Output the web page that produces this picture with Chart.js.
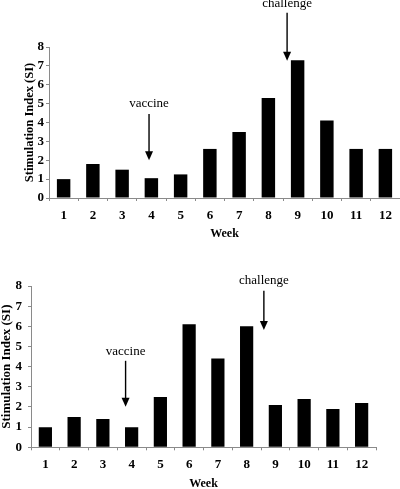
<!DOCTYPE html>
<html><head><meta charset="utf-8">
<script src="https://cdn.jsdelivr.net/npm/chart.js@4/dist/chart.umd.min.js"></script>
<style>
html,body{margin:0;padding:0;background:#fff;width:400px;height:489px;overflow:hidden;position:relative}
canvas{position:absolute;left:0;display:block}
</style>
</head><body>
<canvas id="c1" width="400" height="241" style="top:0"></canvas>
<canvas id="c2" width="400" height="248" style="top:241px"></canvas>
<script>
// ---- data ----
const weeks = ['1','2','3','4','5','6','7','8','9','10','11','12'];
const siTop = [1.0, 1.8, 1.5, 1.05, 1.25, 2.6, 3.5, 5.3, 7.3, 4.1, 2.6, 2.6];
const siBottom = [1.0, 1.5, 1.4, 1.0, 2.5, 6.1, 4.4, 6.0, 2.1, 2.4, 1.9, 2.2];
const yMin = 0, yMax = 8, yStep = 1;
const yTitle = 'Stimulation Index (SI)';
const xTitle = 'Week';
// annotations: label, x (category index), text baseline value, arrow from/to values
const notesTop = [
  {text:'vaccine', x:2.92, textY:4.81, from:4.45, to:2.0},
  {text:'challenge', x:7.64, textY:10.13, from:9.82, to:7.27}
];
const notesBottom = [
  {text:'vaccine', x:2.79, textY:4.58, from:4.29, to:2.01},
  {text:'challenge', x:7.6, textY:8.10, from:7.76, to:5.82}
];

const AX = '#8a8a8a';
const serif = '"Liberation Serif", "Times New Roman", serif';

const notePlugin = {
  id: 'notes',
  afterDraw(chart, args, opts) {
    const ctx = chart.ctx, xs = chart.scales.x, ys = chart.scales.y;
    ctx.save();
    ctx.fillStyle = '#000'; ctx.strokeStyle = '#000';
    ctx.font = '13px ' + serif;
    ctx.textAlign = 'center'; ctx.textBaseline = 'alphabetic';
    for (const n of opts.notes) {
      const x = xs.getPixelForValue(n.x);
      ctx.fillText(n.text, x, ys.getPixelForValue(n.textY));
      const y1 = ys.getPixelForValue(n.from), y2 = ys.getPixelForValue(n.to);
      const head = 9, hw = 4;
      ctx.lineWidth = 1.4;
      ctx.beginPath(); ctx.moveTo(x, y1); ctx.lineTo(x, y2 - head + 1); ctx.stroke();
      ctx.beginPath(); ctx.moveTo(x - hw, y2 - head); ctx.lineTo(x + hw, y2 - head); ctx.lineTo(x, y2); ctx.closePath(); ctx.fill();
    }
    ctx.restore();
  }
};

function makeChart(id, values, notes, cfg) {
  return new Chart(document.getElementById(id), {
    type: 'bar',
    data: { labels: weeks, datasets: [{ data: values, backgroundColor: '#000', borderWidth: 0,
      barPercentage: 0.46, categoryPercentage: 1.0 }] },
    options: {
      responsive: false, animation: false, devicePixelRatio: 1,
      layout: { padding: cfg.padding },
      plugins: { legend: {display:false}, tooltip: {enabled:false}, notes: { notes } },
      scales: {
        x: {
          grid: { display: true, drawOnChartArea: false, drawTicks: true, tickLength: 3, color: AX, offset: true },
          border: { display: true, color: AX, width: 1 },
          ticks: { color: '#000', padding: cfg.xTickPad, font: { family: serif, size: 13, weight: 'bold' }, maxRotation: 0 },
          title: { display: true, text: xTitle, color: '#000', font: { family: serif, size: 12, weight: 'bold' }, padding: cfg.xTitlePad },
          afterFit: s => { s.height = cfg.xHeight; }
        },
        y: {
          min: yMin, max: yMax,
          grid: { display: true, drawOnChartArea: false, drawTicks: true, tickLength: 3, color: AX },
          border: { display: true, color: AX, width: 1 },
          ticks: { stepSize: yStep, color: '#000', padding: cfg.yTickPad, font: { family: serif, size: 13, weight: 'bold' } },
          title: { display: true, text: yTitle, color: '#000', font: { family: serif, size: cfg.yTitleSize, weight: 'bold' }, padding: cfg.yTitlePad },
          afterFit: s => { s.width = cfg.yWidth; }
        }
      }
    },
    plugins: [notePlugin]
  });
}

makeChart('c1', siTop, notesTop, {
  padding: { top: 47, right: 0, left: 0, bottom: 0 },
  xHeight: 43, xTickPad: 6.5, xTitlePad: { top: 0, bottom: 0 },
  yWidth: 49, yTickPad: 2, yTitlePad: { top: 22, bottom: 0 }, yTitleSize: 12.5
});
makeChart('c2', siBottom, notesBottom, {
  padding: { top: 45, right: 24, left: 0, bottom: 0 },
  xHeight: 41.7, xTickPad: 7, xTitlePad: { top: 0, bottom: -2.5 },
  yWidth: 31, yTickPad: 6, yTitlePad: { top: -1, bottom: 0 }, yTitleSize: 13
});
</script>
</body></html>
